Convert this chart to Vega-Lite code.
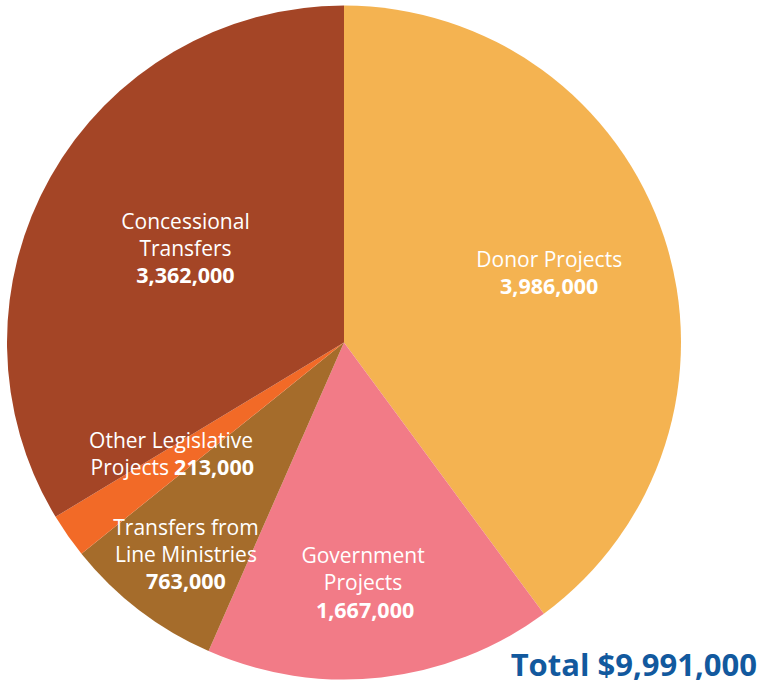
{
  "$schema": "https://vega.github.io/schema/vega-lite/v6.json",
  "width": 688,
  "height": 685,
  "padding": {"left": 0, "top": 0, "bottom": 0, "right": 71},
  "autosize": {"type": "none"},
  "background": "white",
  "config": {"view": {"stroke": null}},
  "title": {
    "text": "Total $9,991,000",
    "orient": "bottom",
    "anchor": "end",
    "font": "Open Sans",
    "fontSize": 31,
    "fontWeight": "bold",
    "color": "#12599E",
    "baseline": "alphabetic",
    "offset": 0,
    "dx": 69,
    "dy": -9
  },
  "data": {
    "values": [
      {"category": "Donor Projects", "rank": 1, "amount": 3986000, "name": ["Donor Projects"], "amountLabel": "3,986,000"},
      {"category": "Government Projects", "rank": 2, "amount": 1667000, "name": ["Government", "Projects"], "amountLabel": "1,667,000"},
      {"category": "Transfers from Line Ministries", "rank": 3, "amount": 763000, "name": ["Transfers from", "Line Ministries"], "amountLabel": "763,000"},
      {"category": "Other Legislative Projects", "rank": 4, "amount": 213000, "name": ["Other Legislative"], "amountLabel": "213,000"},
      {"category": "Concessional Transfers", "rank": 5, "amount": 3362000, "name": ["Concessional", "Transfers"], "amountLabel": "3,362,000"}
    ]
  },
  "encoding": {
    "theta": {"field": "amount", "type": "quantitative", "stack": true},
    "order": {"field": "rank", "type": "quantitative"},
    "detail": {"field": "category", "type": "nominal"}
  },
  "layer": [
    {
      "mark": {"type": "arc", "outerRadius": 337},
      "encoding": {
        "color": {
          "field": "category",
          "type": "nominal",
          "scale": {
            "domain": ["Donor Projects", "Government Projects", "Transfers from Line Ministries", "Other Legislative Projects", "Concessional Transfers"],
            "range": ["#F4B351", "#F27B87", "#A56C2B", "#F26A27", "#A44526"]
          },
          "legend": null
        }
      }
    },
    {
      "mark": {"type": "text", "radius": 216, "font": "Open Sans", "fontSize": 21, "fill": "white", "baseline": "alphabetic", "align": "center", "lineHeight": 27, "dy": -8},
      "encoding": {"text": {"condition": {"test": "datum.rank === 1", "field": "name"}, "value": ""}}
    },
    {
      "mark": {"type": "text", "radius": 216, "font": "Open Sans", "fontSize": 21.5, "fontWeight": "bold", "fill": "white", "baseline": "alphabetic", "align": "center", "dy": 19},
      "encoding": {"text": {"condition": {"test": "datum.rank === 1", "field": "amountLabel"}, "value": ""}}
    },
    {
      "mark": {"type": "text", "radius": 245, "font": "Open Sans", "fontSize": 21, "fill": "white", "baseline": "alphabetic", "align": "center", "lineHeight": 27, "dx": -8, "dy": -23},
      "encoding": {"text": {"condition": {"test": "datum.rank === 2", "field": "name"}, "value": ""}}
    },
    {
      "mark": {"type": "text", "radius": 245, "font": "Open Sans", "fontSize": 21.5, "fontWeight": "bold", "fill": "white", "baseline": "alphabetic", "align": "center", "dx": -6, "dy": 32},
      "encoding": {"text": {"condition": {"test": "datum.rank === 2", "field": "amountLabel"}, "value": ""}}
    },
    {
      "mark": {"type": "text", "radius": 260, "font": "Open Sans", "fontSize": 21, "fill": "white", "baseline": "alphabetic", "align": "center", "lineHeight": 27, "dy": -14},
      "encoding": {"text": {"condition": {"test": "datum.rank === 3", "field": "name"}, "value": ""}}
    },
    {
      "mark": {"type": "text", "radius": 260, "font": "Open Sans", "fontSize": 21.5, "fontWeight": "bold", "fill": "white", "baseline": "alphabetic", "align": "center", "dy": 40},
      "encoding": {"text": {"condition": {"test": "datum.rank === 3", "field": "amountLabel"}, "value": ""}}
    },
    {
      "mark": {"type": "text", "radius": 211, "font": "Open Sans", "fontSize": 21, "fill": "white", "baseline": "alphabetic", "align": "center", "dy": -15},
      "encoding": {"text": {"condition": {"test": "datum.rank === 4", "field": "name"}, "value": ""}}
    },
    {
      "mark": {"type": "text", "radius": 211, "font": "Open Sans", "fontSize": 21, "fill": "white", "baseline": "alphabetic", "align": "right", "dx": -2, "dy": 12},
      "encoding": {"text": {"condition": {"test": "datum.rank === 4", "value": "Projects"}, "value": ""}}
    },
    {
      "mark": {"type": "text", "radius": 211, "font": "Open Sans", "fontSize": 21.5, "fontWeight": "bold", "fill": "white", "baseline": "alphabetic", "align": "left", "dx": 3, "dy": 12},
      "encoding": {"text": {"condition": {"test": "datum.rank === 4", "field": "amountLabel"}, "value": ""}}
    },
    {
      "mark": {"type": "text", "radius": 182, "font": "Open Sans", "fontSize": 21, "fill": "white", "baseline": "alphabetic", "align": "center", "lineHeight": 27, "dy": -24},
      "encoding": {"text": {"condition": {"test": "datum.rank === 5", "field": "name"}, "value": ""}}
    },
    {
      "mark": {"type": "text", "radius": 182, "font": "Open Sans", "fontSize": 21.5, "fontWeight": "bold", "fill": "white", "baseline": "alphabetic", "align": "center", "dy": 30},
      "encoding": {"text": {"condition": {"test": "datum.rank === 5", "field": "amountLabel"}, "value": ""}}
    }
  ]
}
